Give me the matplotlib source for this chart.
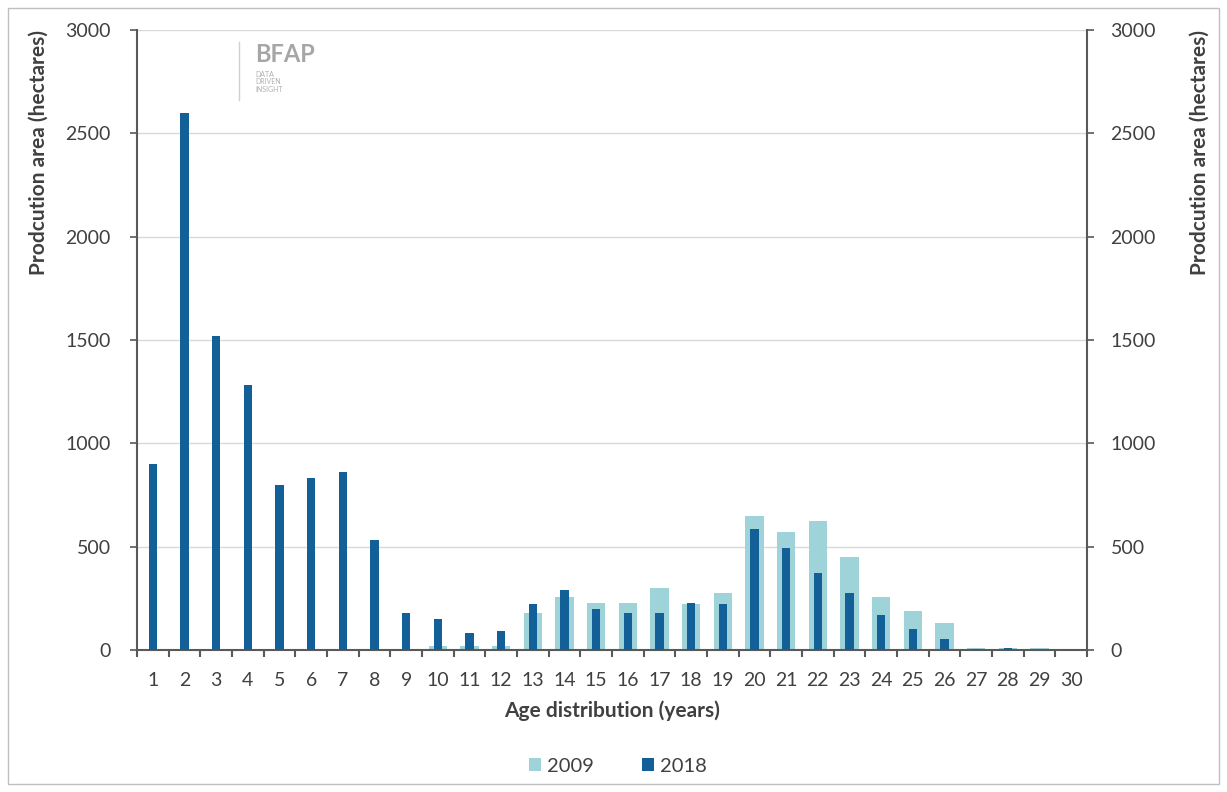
import matplotlib
matplotlib.use("Agg")
import matplotlib.pyplot as plt
import numpy as np
from matplotlib.patches import Rectangle

ages = list(range(1, 31))
area_2009 = [0, 0, 0, 0, 0, 0, 0, 0, 0, 20, 20, 20, 180, 258, 229, 229, 298, 221, 277, 650,
             570, 624, 449, 258, 190, 129, 10, 10, 10, 0]
area_2018 = [900, 2600, 1520, 1280, 800, 830, 860, 530, 180, 150, 80, 90, 221, 290, 198, 177,
             177, 229, 221, 584, 492, 374, 277, 169, 100, 52, 5, 12, 2, 0]
yticks = [0, 500, 1000, 1500, 2000, 2500, 3000]

c2009 = "#9fd3da"
c2018 = "#135f97"
grey = "#595959"
txt = "#404040"
plt.rcParams['font.family'] = ['Lato', 'DejaVu Sans']

fig = plt.figure(figsize=(12.27, 7.92), dpi=100)
ax = fig.add_axes([137/1227, 142/792, (1087-137)/1227, 620/792])
x = np.arange(len(ages))
ax.bar(x, area_2009, width=0.58, color=c2009, label="2009", zorder=2)
ax.bar(x, area_2018, width=0.27, color=c2018, label="2018", zorder=3)
ax.set_xlim(-0.5, len(ages) - 0.5)
ax.set_ylim(0, 3000)
ax.set_yticks(yticks)
ax.set_yticklabels([str(v) for v in yticks], fontsize=14, color=txt)
ax.set_xticks(x)
ax.set_xticklabels([str(a) for a in ages], fontsize=14, color=txt)
ax.set_xticks(np.arange(-0.5, len(ages)), minor=True)
ax.tick_params(axis='x', which='major', length=0, pad=16)
ax.tick_params(axis='x', which='minor', length=5, color=grey, width=1.5)
ax.tick_params(axis='y', length=5, color=grey, width=1.2, pad=14)
ax.grid(axis='y', color="#d9d9d9", linewidth=1, zorder=0)
ax.set_axisbelow(True)
ax.spines['top'].set_visible(False)
ax.spines['right'].set_visible(False)
for s in ['left', 'bottom']:
    ax.spines[s].set_color(grey)
    ax.spines[s].set_linewidth(1.5)
ax.set_ylabel("Prodcution area (hectares)", fontsize=15, fontweight='bold', color=txt,
              labelpad=12, loc='top')
ax.set_xlabel("Age distribution (years)", fontsize=15, fontweight='bold', color=txt, labelpad=8)

ax2 = ax.twinx()
ax2.set_ylim(0, 3000)
ax2.set_yticks(yticks)
ax2.set_yticklabels([str(v) for v in yticks], fontsize=14, color=txt)
ax2.tick_params(axis='y', length=5, color=grey, width=1.2, pad=12)
for s in ['top', 'left', 'bottom']:
    ax2.spines[s].set_visible(False)
ax2.spines['right'].set_color(grey)
ax2.spines['right'].set_linewidth(1.5)
ax2.set_ylabel("Prodcution area (hectares)", fontsize=15, fontweight='bold', color=txt,
               labelpad=24, loc='top')

h, l = ax.get_legend_handles_labels()
fig.legend(h, l, loc='center', bbox_to_anchor=(618/1227, 1 - 766/792), ncol=2, frameon=False,
           fontsize=14.5, handlelength=0.6, handleheight=0.6, columnspacing=2.4, handletextpad=0.3,
           labelcolor=txt)

# logo text
fig.text(255/1227, 1 - 55/792, "BFAP", fontsize=17, color="#a6a6a6", fontweight='bold', va='center')
fig.text(255/1227, 1 - 82/792, "DATA\nDRIVEN\nINSIGHT", fontsize=5, color="#b0b0b0", va='center', linespacing=1.1)
fig.add_artist(plt.Line2D([239/1227, 239/1227], [1 - 42/792, 1 - 100/792], color="#d0d0d0", lw=1))

fig.add_artist(Rectangle((8/1227, 8/792), 1 - 16/1227, 1 - 16/792, transform=fig.transFigure,
                         fill=False, edgecolor="#bfbfbf", linewidth=1))

fig.savefig("out.png", dpi=100)
